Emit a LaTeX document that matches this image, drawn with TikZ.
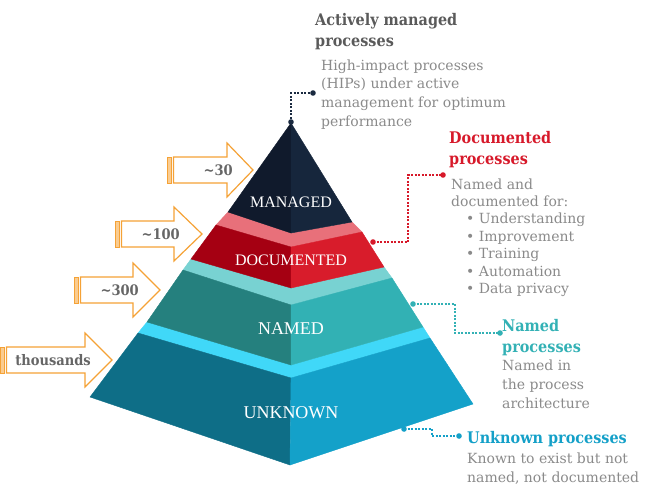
\documentclass[tikz,border=0pt]{standalone}
\usepackage{fontspec}
\setmainfont{DejaVu Serif}
\newfontfamily\headfont{DejaVu Serif}[FakeStretch=0.9]
\newfontfamily\tierfont{Liberation Serif}
\usetikzlibrary{calc}

\definecolor{mgdleft}{HTML}{101A2C}
\definecolor{mgdright}{HTML}{16263C}
\definecolor{doctop}{HTML}{E8707A}
\definecolor{docleft}{HTML}{A50012}
\definecolor{docright}{HTML}{D81C2B}
\definecolor{namtop}{HTML}{78D2D2}
\definecolor{namleft}{HTML}{25807E}
\definecolor{namright}{HTML}{32B1B4}
\definecolor{unktop}{HTML}{40D8F8}
\definecolor{unkleft}{HTML}{0E6E87}
\definecolor{unkright}{HTML}{14A1C9}
\definecolor{arrorange}{HTML}{F5A236}
\definecolor{txtgrey}{HTML}{8A8A8A}
\definecolor{headgrey}{HTML}{5A5A5A}
\definecolor{cntgrey}{HTML}{666666}
\definecolor{mgdline}{HTML}{1A2A40}
\definecolor{docred}{HTML}{D7192A}
\definecolor{namteal}{HTML}{33B1B5}
\definecolor{unkblue}{HTML}{14A0C8}

\tikzset{
  face/.style={fill=#1, draw=#1, line width=0.4pt},
  tierlabel/.style={text=white, inner sep=0pt, font=\tierfont\fontsize{#1}{#1}\selectfont},
  head/.style={anchor=north west, inner sep=0pt, align=left, font=\headfont\bfseries\fontsize{16}{21.5}\selectfont},
  desc/.style={anchor=north west, inner sep=0pt, align=left, text=txtgrey, font=\fontsize{14}{#1}\selectfont},
  leader/.style={dash pattern=on 2pt off 1.5pt, line width=1.1pt},
  countarrow/.style={draw=arrorange, line width=1.2pt, fill=white},
  countlabel/.style={anchor=east, inner sep=0pt, text=cntgrey, font=\headfont\bfseries\fontsize{14.5}{14.5}\selectfont},
}

% name, tail x, head base x, tip x, centre y, label
\newcommand{\countarrow}[6]{%
  \filldraw[fill=arrorange!55, draw=arrorange, line width=0.8pt] (#2+0.5,#5-13) rectangle (#2+4,#5+13);
  \draw[countarrow] (#2+6.5,#5-13) -- (#3,#5-13) -- (#3,#5-27) -- (#4,#5)
    -- (#3,#5+27) -- (#3,#5+13) -- (#2+6.5,#5+13) -- cycle;
  \node[countlabel] (#1) at (#3+6,#5) {#6};
}

\begin{document}
\begin{tikzpicture}[x=1pt, y=-1pt]
  \useasboundingbox (0,0) rectangle (650,496);

  % tier corners: top left / top middle / top right, bottom left / middle / right
  \coordinate (unkTL) at (138,333); \coordinate (unkTM) at (291,378); \coordinate (unkTR) at (430,338);
  \coordinate (unkBL) at (90,397);  \coordinate (unkBM) at (290,465); \coordinate (unkBR) at (473,404);
  \coordinate (namTL) at (183,270); \coordinate (namTM) at (291,305); \coordinate (namTR) at (392,278);
  \coordinate (namBL) at (147,322); \coordinate (namBM) at (291,365); \coordinate (namBR) at (423,327);
  \coordinate (docTL) at (216,225); \coordinate (docTM) at (291,247); \coordinate (docTR) at (362,232);
  \coordinate (docBL) at (191,259); \coordinate (docBM) at (291,288); \coordinate (docBR) at (384,267);
  \coordinate (mgdApex) at (291,123);
  \coordinate (mgdBL) at (228,212); \coordinate (mgdBM) at (291,233); \coordinate (mgdBR) at (352,222);

  % unknown tier
  \filldraw[face=unktop] (unkTL) -- (unkTM) -- (unkTR) -- (namBR) -- (namBM) -- (namBL) -- cycle;
  \filldraw[face=unkleft] (unkTL) -- (unkTM) -- (unkBM) -- (unkBL) -- cycle;
  \filldraw[face=unkright] (unkTM) -- (unkTR) -- (unkBR) -- (unkBM) -- cycle;

  % named tier
  \filldraw[face=namtop] (namTL) -- (namTM) -- (namTR) -- (docBR) -- (docBM) -- (docBL) -- cycle;
  \filldraw[face=namleft] (namTL) -- (namTM) -- (namBM) -- (namBL) -- cycle;
  \filldraw[face=namright] (namTM) -- (namTR) -- (namBR) -- (namBM) -- cycle;

  % documented tier
  \filldraw[face=doctop] (docTL) -- (docTM) -- (docTR) -- (mgdBR) -- (mgdBM) -- (mgdBL) -- cycle;
  \filldraw[face=docleft] (docTL) -- (docTM) -- (docBM) -- (docBL) -- cycle;
  \filldraw[face=docright] (docTM) -- (docTR) -- (docBR) -- (docBM) -- cycle;

  % managed tier
  \filldraw[face=mgdleft] (mgdApex) -- (mgdBM) -- (mgdBL) -- cycle;
  \filldraw[face=mgdright] (mgdApex) -- (mgdBR) -- (mgdBM) -- cycle;

  % tier labels
  \node[tierlabel=16] (mgdLabel) at (291,202) {MANAGED};
  \node[tierlabel=16] (docLabel) at (291,260) {DOCUMENTED};
  \node[tierlabel=18] (namLabel) at (291,329) {NAMED};
  \node[tierlabel=18] (unkLabel) at (291,413) {UNKNOWN};

  % count arrows
  \countarrow{cntMgd}{167}{227}{253}{170}{\textasciitilde30}
  \countarrow{cntDoc}{115}{174}{202}{234}{\textasciitilde100}
  \countarrow{cntNam}{74}{133}{160}{290}{\textasciitilde300}
  \countarrow{cntUnk}{0}{85}{112}{360}{thousands}

  % text blocks
  \node[head, text=headgrey] (mgdHead) at (315,10) {\strut Actively managed\\processes};
  \node[desc=18.7] (mgdDesc) at (321,56.9) {\strut High-impact processes\\(HIPs) under active\\management for optimum\\performance};
  \node[head, text=docred] (docHead) at (449,128) {\strut Documented\\processes};
  \node[desc=17.4] (docDesc) at (451,176.8) {\strut Named and\\documented for:\\
    \hspace*{15pt}\textbullet\ Understanding\\\hspace*{15pt}\textbullet\ Improvement\\
    \hspace*{15pt}\textbullet\ Training\\\hspace*{15pt}\textbullet\ Automation\\
    \hspace*{15pt}\textbullet\ Data privacy};
  \node[head, text=namteal] (namHead) at (502,316) {\strut Named\\processes};
  \node[desc=19] (namDesc) at (502,356.7) {\strut Named in\\the process\\architecture};
  \node[head, text=unkblue] (unkHead) at (467,428) {\strut Unknown processes};
  \node[desc=19] (unkDesc) at (467,449.7) {\strut Known to exist but not\\named, not documented};

  % leader lines
  \coordinate (mgdDotA) at (291,122); \coordinate (mgdDotB) at (313,93);
  \coordinate (docDotA) at (373,242); \coordinate (docDotB) at (443,175);
  \coordinate (namDotA) at (413,304); \coordinate (namDotB) at (500,333);
  \coordinate (unkDotA) at (404,429); \coordinate (unkDotB) at (459,436);

  \draw[leader, mgdline] (mgdDotA) |- (mgdDotB);
  \draw[leader, docred] (docDotA) -- ++(35,0) |- (docDotB);
  \draw[leader, namteal] (namDotA) -- ++(42,0) |- (namDotB);
  \draw[leader, unkblue] (unkDotA) -- ++(28,0) |- (unkDotB);

  \foreach \d/\c in {mgdDotA/mgdline, mgdDotB/mgdline, docDotA/docred, docDotB/docred,
                     namDotA/namteal, namDotB/namteal, unkDotA/unkblue, unkDotB/unkblue}
    \fill[\c] (\d) circle (2.8);
\end{tikzpicture}
\end{document}
